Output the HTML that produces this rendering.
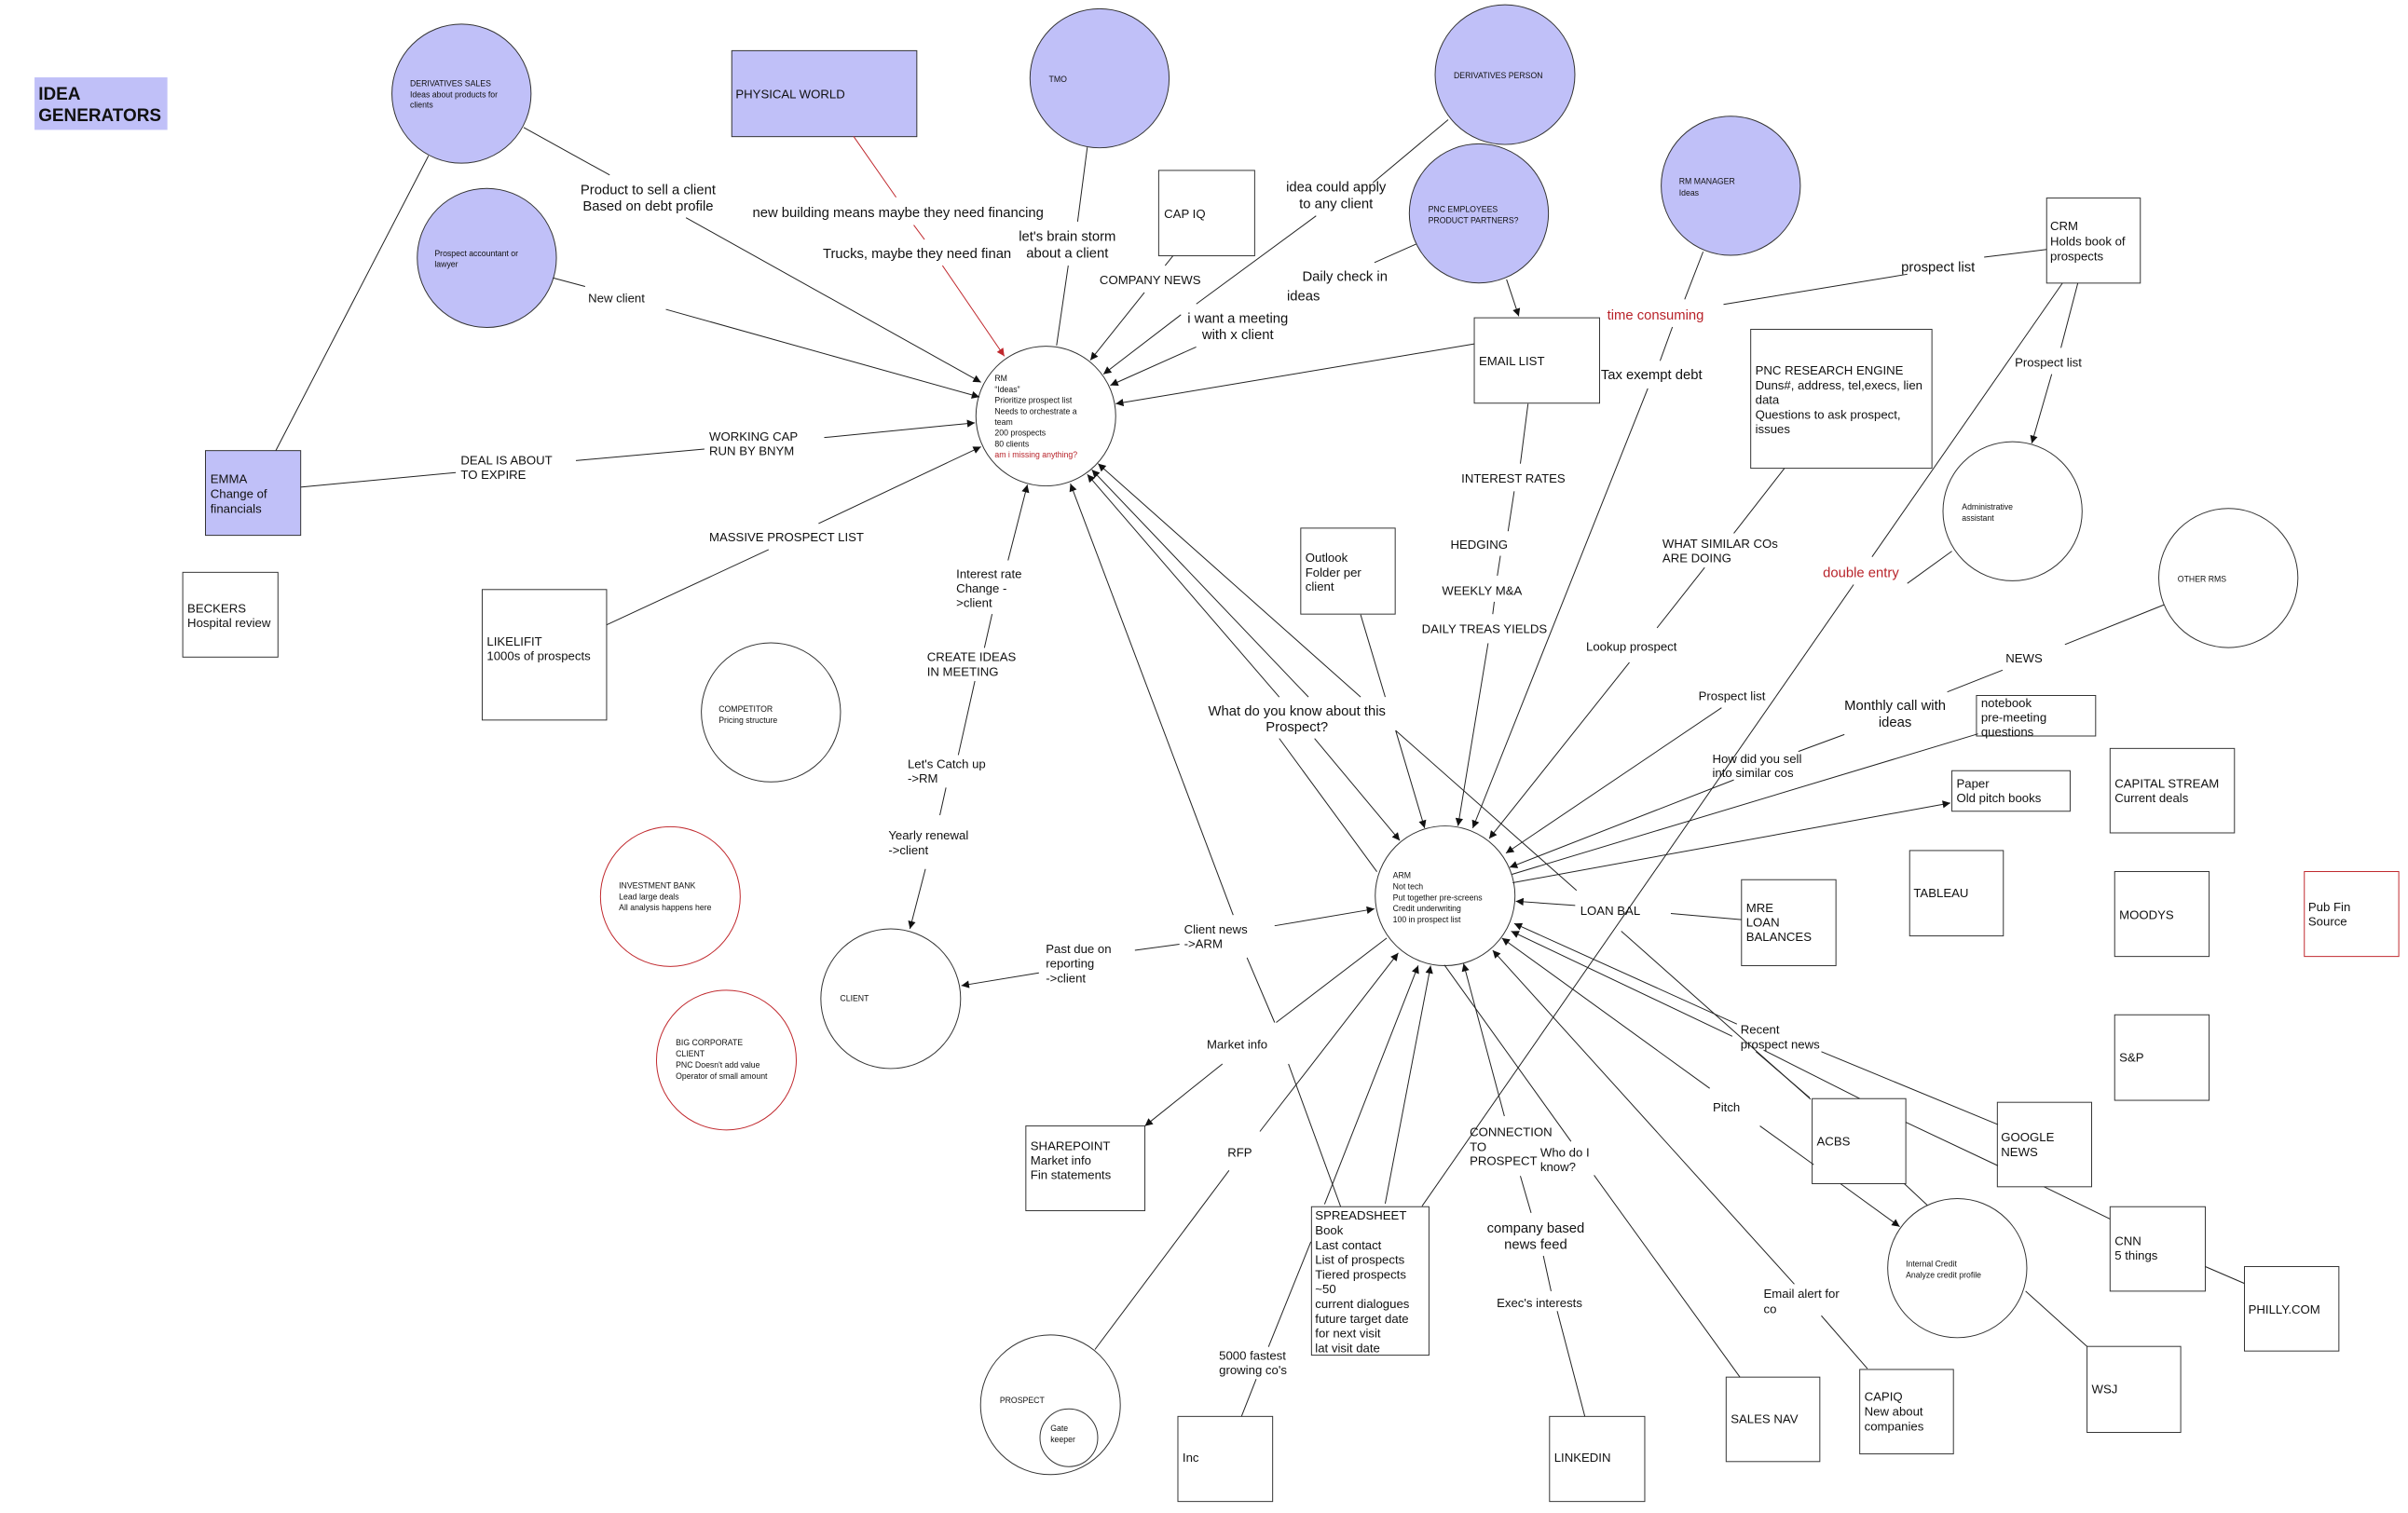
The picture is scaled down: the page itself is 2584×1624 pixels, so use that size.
<!DOCTYPE html>
<html><head><meta charset="utf-8"><style>
html,body{margin:0;padding:0;background:#fff}
svg{display:block}
text{font-family:"Liberation Sans",Arial,sans-serif;fill:#111}
.l{stroke:#222;stroke-width:.6;fill:none}
.r{stroke:#c0282d;stroke-width:.6;fill:none}
.c{fill:#c0c0f8;stroke:#333;stroke-width:.6}
.w{fill:#fff;stroke:#333;stroke-width:.6}
.rc{fill:#fff;stroke:#c0282d;stroke-width:.6}
.t9{font-size:9px}
.t8{font-size:8px}
.t5{font-size:5.3px}
.red{fill:#b8232a}
</style></head><body>
<svg width="2584" height="1624" viewBox="0 0 1568 985.5" preserveAspectRatio="none" xmlns="http://www.w3.org/2000/svg">
<defs>
<marker id="a" viewBox="0 0 10 10" refX="10" refY="5" markerWidth="6" markerHeight="5" markerUnits="userSpaceOnUse" orient="auto"><path d="M0,0L10,5L0,10z" fill="#111"/></marker>
<marker id="ar" viewBox="0 0 10 10" refX="10" refY="5" markerWidth="6" markerHeight="5" markerUnits="userSpaceOnUse" orient="auto"><path d="M0,0L10,5L0,10z" fill="#c0282d"/></marker>
</defs>
<rect width="1568" height="985.5" fill="#fff"/>

<!-- IDEA GENERATORS -->
<rect x="22.5" y="50.4" width="86.5" height="34.2" fill="#c0c0f8"/>
<text x="25" y="65" style="font-size:11.5px;font-weight:bold">IDEA</text>
<text x="25" y="79" style="font-size:11.5px;font-weight:bold">GENERATORS</text>

<!-- purple circles -->
<circle class="c" cx="300.5" cy="61" r="45.3"/>
<text class="t5" x="267" y="56.2">DERIVATIVES SALES</text>
<text class="t5" x="267" y="63.3">Ideas about products for</text>
<text class="t5" x="267" y="70.2">clients</text>
<circle class="c" cx="317" cy="168" r="45.3"/>
<text class="t5" x="283" y="167">Prospect accountant or</text>
<text class="t5" x="283" y="174">lawyer</text>
<circle class="c" cx="716" cy="51" r="45.3"/>
<text class="t5" x="683" y="53.5">TMO</text>
<circle class="c" cx="980" cy="48.6" r="45.5"/>
<text class="t5" x="946.6" y="51">DERIVATIVES PERSON</text>
<circle class="c" cx="963" cy="139" r="45.3"/>
<text class="t5" x="930" y="138">PNC EMPLOYEES</text>
<text class="t5" x="930" y="145.3">PRODUCT PARTNERS?</text>
<circle class="c" cx="1127" cy="121" r="45.3"/>
<text class="t5" x="1093.3" y="120">RM MANAGER</text>
<text class="t5" x="1093.3" y="127.3">Ideas</text>

<!-- purple rects -->
<rect class="c" x="476.5" y="33" width="120.5" height="56"/>
<text class="t8" x="479" y="64">PHYSICAL WORLD</text>
<rect class="c" x="133.8" y="293.5" width="62" height="55.2"/>
<text class="t8" x="137" y="314.5">EMMA</text>
<text class="t8" x="137" y="324.3">Change of</text>
<text class="t8" x="137" y="334">financials</text>

<!-- white rects -->
<rect class="w" x="754.5" y="111" width="62.5" height="55.6"/>
<text class="t8" x="758" y="142">CAP IQ</text>
<rect class="w" x="960" y="207" width="81.6" height="55.6"/>
<text class="t8" x="963" y="238">EMAIL LIST</text>
<rect class="w" x="1140" y="214.5" width="118" height="90.5"/>
<text class="t8" x="1143" y="244">PNC RESEARCH ENGINE</text>
<text class="t8" x="1143" y="253.7">Duns#, address, tel,execs, lien</text>
<text class="t8" x="1143" y="263.2">data</text>
<text class="t8" x="1143" y="272.7">Questions to ask prospect,</text>
<text class="t8" x="1143" y="282.2">issues</text>
<rect class="w" x="1332.7" y="129" width="61" height="55.4"/>
<text class="t8" x="1335" y="150">CRM</text>
<text class="t8" x="1335" y="160">Holds book of</text>
<text class="t8" x="1335" y="169.6">prospects</text>
<rect class="w" x="119" y="372.8" width="62" height="55.2"/>
<text class="t8" x="122" y="399">BECKERS</text>
<text class="t8" x="122" y="408.5">Hospital review</text>
<rect class="w" x="314" y="384" width="81" height="85"/>
<text class="t8" x="317" y="420.6">LIKELIFIT</text>
<text class="t8" x="317" y="430">1000s of prospects</text>
<rect class="w" x="847" y="344" width="61.5" height="56"/>
<text class="t8" x="850" y="366">Outlook</text>
<text class="t8" x="850" y="375.5">Folder per</text>
<text class="t8" x="850" y="384.7">client</text>
<rect class="w" x="1287" y="453" width="77.6" height="26.4"/>
<text class="t8" x="1290" y="460.6">notebook</text>
<text class="t8" x="1290" y="470">pre-meeting</text>
<text class="t8" x="1290" y="479.4">questions</text>
<rect class="w" x="1271" y="502" width="77" height="26.4"/>
<text class="t8" x="1274" y="513">Paper</text>
<text class="t8" x="1274" y="522.5">Old pitch books</text>
<rect class="w" x="1374" y="487.5" width="81" height="55"/>
<text class="t8" x="1377" y="513">CAPITAL STREAM</text>
<text class="t8" x="1377" y="522.5">Current deals</text>
<rect class="w" x="1243.5" y="554" width="61" height="55.6"/>
<text class="t8" x="1246" y="584.5">TABLEAU</text>
<rect class="w" x="1377" y="567.7" width="61.5" height="55.3"/>
<text class="t8" x="1380" y="598.5">MOODYS</text>
<rect x="1500.5" y="567.7" width="61.5" height="55.3" fill="#fff" stroke="#c0282d" stroke-width=".6"/>
<text class="t8" x="1503" y="593.5">Pub Fin</text>
<text class="t8" x="1503" y="603">Source</text>
<rect class="w" x="1134" y="573" width="61.5" height="56"/>
<text class="t8" x="1137" y="594">MRE</text>
<text class="t8" x="1137" y="603.5">LOAN</text>
<text class="t8" x="1137" y="613">BALANCES</text>
<rect class="w" x="1377" y="661" width="61.5" height="55.7"/>
<text class="t8" x="1380" y="691.5">S&amp;P</text>
<rect class="w" x="1180" y="715.6" width="61" height="55.4"/>
<text class="t8" x="1183" y="746">ACBS</text>
<rect class="w" x="1300.6" y="718" width="61.4" height="55"/>
<text class="t8" x="1303" y="743.5">GOOGLE</text>
<text class="t8" x="1303" y="753">NEWS</text>
<rect class="w" x="1374" y="786" width="62" height="55"/>
<text class="t8" x="1377" y="811">CNN</text>
<text class="t8" x="1377" y="820.5">5 things</text>
<rect class="w" x="1461.5" y="825" width="61.5" height="55"/>
<text class="t8" x="1464" y="855.5">PHILLY.COM</text>
<rect class="w" x="1359" y="877" width="61" height="56"/>
<text class="t8" x="1362" y="907.5">WSJ</text>
<rect class="w" x="1211" y="892" width="61" height="55"/>
<text class="t8" x="1214" y="912.5">CAPIQ</text>
<text class="t8" x="1214" y="922">New about</text>
<text class="t8" x="1214" y="931.7">companies</text>
<rect class="w" x="1124" y="897" width="61" height="55"/>
<text class="t8" x="1127" y="927">SALES NAV</text>
<rect class="w" x="1009" y="922.6" width="62" height="55.4"/>
<text class="t8" x="1012" y="952">LINKEDIN</text>
<rect class="w" x="767" y="922.6" width="61.7" height="55.4"/>
<text class="t8" x="770" y="952">Inc</text>
<rect class="w" x="668" y="733.4" width="77.5" height="55.2"/>
<text class="t8" x="671" y="749">SHAREPOINT</text>
<text class="t8" x="671" y="758.5">Market info</text>
<text class="t8" x="671" y="768">Fin statements</text>
<rect class="w" x="854" y="786" width="76.5" height="96.7"/>
<text class="t8" x="856.4" y="794.5">SPREADSHEET</text>
<text class="t8" x="856.4" y="804.1">Book</text>
<text class="t8" x="856.4" y="813.7">Last contact</text>
<text class="t8" x="856.4" y="823.3">List of prospects</text>
<text class="t8" x="856.4" y="832.8">Tiered prospects</text>
<text class="t8" x="856.4" y="842.4">~50</text>
<text class="t8" x="856.4" y="852">current dialogues</text>
<text class="t8" x="856.4" y="861.6">future target date</text>
<text class="t8" x="856.4" y="871.2">for next visit</text>
<text class="t8" x="856.4" y="880.7">lat visit date</text>

<!-- white circles -->
<circle class="w" cx="681" cy="271" r="45.5"/>
<text class="t5" x="647.7" y="248.3">RM</text>
<text class="t5" x="647.7" y="255.4">“Ideas”</text>
<text class="t5" x="647.7" y="262.5">Prioritize prospect list</text>
<text class="t5" x="647.7" y="269.6">Needs to orchestrate a</text>
<text class="t5" x="647.7" y="276.7">team</text>
<text class="t5" x="647.7" y="283.8">200 prospects</text>
<text class="t5" x="647.7" y="290.9">80 clients</text>
<text class="t5 red" x="647.7" y="298">am i missing anything?</text>
<circle class="w" cx="941" cy="583.5" r="45.5"/>
<text class="t5" x="907" y="572">ARM</text>
<text class="t5" x="907" y="579.2">Not tech</text>
<text class="t5" x="907" y="586.4">Put together pre-screens</text>
<text class="t5" x="907" y="593.6">Credit underwriting</text>
<text class="t5" x="907" y="600.8">100 in prospect list</text>
<circle class="w" cx="502" cy="464" r="45.3"/>
<text class="t5" x="468" y="463.5">COMPETITOR</text>
<text class="t5" x="468" y="470.8">Pricing structure</text>
<circle class="rc" cx="436.5" cy="584" r="45.5"/>
<text class="t5" x="403" y="578.5">INVESTMENT BANK</text>
<text class="t5" x="403" y="585.8">Lead large deals</text>
<text class="t5" x="403" y="593">All analysis happens here</text>
<circle class="rc" cx="473" cy="690.5" r="45.5"/>
<text class="t5" x="440" y="681">BIG CORPORATE</text>
<text class="t5" x="440" y="688.2">CLIENT</text>
<text class="t5" x="440" y="695.4">PNC Doesn't add value</text>
<text class="t5" x="440" y="702.6">Operator of small amount</text>
<circle class="w" cx="580" cy="650.5" r="45.5"/>
<text class="t5" x="547" y="652">CLIENT</text>
<circle class="w" cx="1310.5" cy="333" r="45.3"/>
<text class="t5" x="1277.5" y="332">Administrative</text>
<text class="t5" x="1277.5" y="339.3">assistant</text>
<circle class="w" cx="1451" cy="376.5" r="45.3"/>
<text class="t5" x="1418" y="379">OTHER RMS</text>
<circle class="w" cx="1274.5" cy="826" r="45.3"/>
<text class="t5" x="1241" y="825">Internal Credit</text>
<text class="t5" x="1241" y="832.3">Analyze credit profile</text>
<circle class="w" cx="684" cy="915" r="45.5"/>
<text class="t5" x="651" y="914">PROSPECT</text>
<circle class="w" cx="696" cy="936.5" r="18.8"/>
<text class="t5" x="684" y="932">Gate</text>
<text class="t5" x="684" y="939.5">keeper</text>

<!-- connectors -->
<g class="l">
<line x1="341" y1="83" x2="397" y2="114"/>
<line x1="446.7" y1="141.8" x2="638.8" y2="249" marker-end="url(#a)"/>
<line x1="360" y1="181" x2="381" y2="186.6"/>
<line x1="433.6" y1="201.5" x2="637.8" y2="258.6" marker-end="url(#a)"/>
<line x1="708" y1="96" x2="701.7" y2="144.4"/>
<line x1="695.6" y1="173" x2="688" y2="225"/>
<line x1="763.8" y1="166.6" x2="758.7" y2="173"/>
<line x1="745.2" y1="190.5" x2="710" y2="234.6" marker-end="url(#a)"/>
<line x1="943" y1="78" x2="894" y2="119"/>
<line x1="857" y1="140.6" x2="779" y2="198"/>
<line x1="769" y1="205" x2="718.5" y2="243.7" marker-end="url(#a)"/>
<line x1="778.9" y1="226" x2="723" y2="251" marker-end="url(#a)"/>
<line x1="895" y1="171" x2="922" y2="159"/>
<line x1="981" y1="182" x2="989" y2="206" marker-end="url(#a)"/>
<line x1="960" y1="224" x2="726.5" y2="263" marker-end="url(#a)"/>
<line x1="179.6" y1="293.5" x2="279" y2="101.5"/>
<line x1="195.7" y1="317.3" x2="296.8" y2="307.8"/>
<line x1="375" y1="300" x2="458.7" y2="292.5"/>
<line x1="536.7" y1="285" x2="634.8" y2="275.4" marker-end="url(#a)"/>
<line x1="395" y1="407" x2="500.5" y2="358"/>
<line x1="533" y1="341" x2="638.8" y2="291" marker-end="url(#a)"/>
<line x1="656.4" y1="365" x2="669" y2="315.7" marker-end="url(#a)"/>
<line x1="646" y1="400" x2="641" y2="422"/>
<line x1="634.8" y1="443.6" x2="624" y2="491.8"/>
<line x1="616" y1="513" x2="612" y2="531"/>
<line x1="602.6" y1="566" x2="592.5" y2="605" marker-end="url(#a)"/>
<line x1="676.5" y1="633.7" x2="626" y2="642" marker-end="url(#a)"/>
<line x1="739" y1="619" x2="768" y2="615"/>
<line x1="830" y1="603" x2="895" y2="592" marker-end="url(#a)"/>
<!-- RM <-> ARM lines -->
<line x1="803" y1="596" x2="697" y2="315" marker-end="url(#a)"/>
<line x1="833" y1="454" x2="708" y2="309" marker-end="url(#a)"/>
<line x1="852" y1="454" x2="711" y2="306" marker-end="url(#a)"/>
<line x1="886" y1="454" x2="715" y2="302" marker-end="url(#a)"/>
<line x1="833" y1="481" x2="896.6" y2="567.8"/>
<line x1="856" y1="481" x2="911.5" y2="547.5" marker-end="url(#a)"/>
<line x1="908.8" y1="475.8" x2="927.7" y2="539.4" marker-end="url(#a)"/>
<line x1="908.8" y1="475.8" x2="1026.6" y2="580"/>
<line x1="886" y1="400.4" x2="902" y2="454"/>
<!-- email list chain -->
<line x1="995" y1="263" x2="990" y2="302"/>
<line x1="986" y1="320" x2="982" y2="346"/>
<line x1="977" y1="362" x2="975" y2="375"/>
<line x1="973" y1="392" x2="972" y2="400"/>
<line x1="969" y1="419" x2="949.4" y2="538" marker-end="url(#a)"/>
<!-- RM manager / tax exempt -->
<line x1="1109" y1="164" x2="1097" y2="195"/>
<line x1="1089" y1="213" x2="1081" y2="235"/>
<line x1="1073" y1="253" x2="959" y2="539.4" marker-end="url(#a)"/>
<line x1="1242" y1="178.6" x2="1122.3" y2="198.3"/>
<line x1="1292" y1="167.5" x2="1332.7" y2="162.5"/>
<line x1="1353" y1="184.4" x2="1342" y2="226.6"/>
<line x1="1336" y1="243.7" x2="1323" y2="288.8" marker-end="url(#a)"/>
<line x1="1343" y1="184.4" x2="1219" y2="362.7"/>
<line x1="1207" y1="380.8" x2="926" y2="785.6"/>
<line x1="1162" y1="305" x2="1129" y2="347.4"/>
<line x1="1110" y1="369.7" x2="1079" y2="409"/>
<line x1="1061" y1="431.5" x2="969.7" y2="546.2" marker-end="url(#a)"/>
<line x1="1271" y1="359" x2="1242" y2="380"/>
<line x1="1121" y1="461" x2="980.6" y2="555.7" marker-end="url(#a)"/>
<line x1="1409" y1="394" x2="1344.6" y2="419.8"/>
<line x1="1304" y1="436.5" x2="1268" y2="450.7"/>
<line x1="1201" y1="478.4" x2="1171" y2="489.5"/>
<line x1="1129" y1="508" x2="983" y2="565" marker-end="url(#a)"/>
<line x1="1288" y1="478" x2="984.5" y2="569.5"/>
<line x1="985" y1="575" x2="1270" y2="523" marker-end="url(#a)"/>
<line x1="1025.7" y1="589.8" x2="987" y2="587" marker-end="url(#a)"/>
<line x1="1088" y1="595" x2="1134" y2="599"/>
<line x1="1055.7" y1="606.5" x2="1179" y2="716"/>
<line x1="1131" y1="667" x2="986" y2="601.5" marker-end="url(#a)"/>
<line x1="1128" y1="675" x2="984" y2="606.5" marker-end="url(#a)"/>
<line x1="1143.4" y1="685" x2="1178.4" y2="715"/>
<line x1="1148.4" y1="684" x2="1211" y2="715.6"/>
<line x1="1186" y1="685" x2="1301" y2="732.5"/>
<line x1="1241" y1="731" x2="1301" y2="759.3"/>
<line x1="1113.3" y1="708.9" x2="978" y2="611" marker-end="url(#a)"/>
<line x1="1146" y1="733.4" x2="1181" y2="758.6"/>
<line x1="1198.4" y1="771" x2="1237" y2="799" marker-end="url(#a)"/>
<line x1="1240" y1="771" x2="1255" y2="785"/>
<line x1="1331" y1="773" x2="1374" y2="794"/>
<line x1="1436" y1="825" x2="1461.5" y2="836"/>
<line x1="1319" y1="841" x2="1359" y2="877"/>
<line x1="1168.4" y1="836.4" x2="972" y2="619" marker-end="url(#a)"/>
<line x1="1186" y1="857" x2="1216" y2="891.5"/>
<line x1="940.5" y1="628.5" x2="1023" y2="743.5"/>
<line x1="1038" y1="765.5" x2="1133" y2="897"/>
<line x1="979.6" y1="727" x2="953" y2="627.6" marker-end="url(#a)"/>
<line x1="990" y1="766" x2="997" y2="790"/>
<line x1="1005" y1="818" x2="1010" y2="841"/>
<line x1="1014" y1="854" x2="1032" y2="922.6"/>
<line x1="862.5" y1="784.4" x2="923.5" y2="628.9" marker-end="url(#a)"/>
<line x1="902" y1="784" x2="931.6" y2="629" marker-end="url(#a)"/>
<line x1="853.6" y1="808.8" x2="826" y2="877.3"/>
<line x1="818" y1="898.2" x2="808.4" y2="922.6"/>
<line x1="812" y1="623.8" x2="830" y2="666"/>
<line x1="831" y1="666" x2="903" y2="611"/>
<line x1="796" y1="693" x2="745.5" y2="733.4" marker-end="url(#a)"/>
<line x1="839" y1="693" x2="873" y2="786"/>
<line x1="820.4" y1="737" x2="910.5" y2="620.7" marker-end="url(#a)"/>
<line x1="800.3" y1="762.4" x2="713" y2="879"/>
</g>
<!-- red physical world -->
<line class="r" x1="555.8" y1="88.8" x2="583.5" y2="128.5"/>
<line class="r" x1="595" y1="146.6" x2="602" y2="156"/>
<line class="r" x1="613.7" y1="173" x2="654" y2="232" marker-end="url(#ar)"/>

<!-- labels -->
<text class="t9" x="422" y="126.5" text-anchor="middle">Product to sell a client</text>
<text class="t9" x="422" y="137" text-anchor="middle">Based on debt profile</text>
<text class="t8" x="383" y="197">New client</text>
<text class="t9" x="490" y="141.5">new building means maybe they need financing</text>
<text class="t9" x="535.8" y="168">Trucks, maybe they need finan</text>
<text class="t9" x="695" y="157" text-anchor="middle">let's brain storm</text>
<text class="t9" x="695" y="167.7" text-anchor="middle">about a client</text>
<text class="t8" x="716" y="185">COMPANY NEWS</text>
<text class="t9" x="870" y="124.7" text-anchor="middle">idea could apply</text>
<text class="t9" x="870" y="135.5" text-anchor="middle">to any client</text>
<text class="t9" x="806" y="210.3" text-anchor="middle">i want a meeting</text>
<text class="t9" x="806" y="220.8" text-anchor="middle">with x client</text>
<text class="t9" x="848" y="183">Daily check in</text>
<text class="t9" x="838" y="195.8">ideas</text>
<text class="t9 red" x="1046.5" y="208">time consuming</text>
<text class="t9" x="1042.4" y="247">Tax exempt debt</text>
<text class="t9" x="1238" y="177">prospect list</text>
<text class="t8" x="1312" y="238.8">Prospect list</text>
<text class="t8" x="951.6" y="314.3">INTEREST RATES</text>
<text class="t8" x="944.5" y="357.4">HEDGING</text>
<text class="t8" x="939" y="387.5">WEEKLY M&amp;A</text>
<text class="t8" x="925.8" y="412.4">DAILY TREAS YIELDS</text>
<text class="t8" x="1082.5" y="356.8">WHAT SIMILAR COs</text>
<text class="t8" x="1082.5" y="366.3">ARE DOING</text>
<text class="t8" x="1032.8" y="424">Lookup prospect</text>
<text class="t9 red" x="1187" y="376">double entry</text>
<text class="t8" x="1106" y="456">Prospect list</text>
<text class="t8" x="1306" y="431.4">NEWS</text>
<text class="t9" x="1234" y="462.5" text-anchor="middle">Monthly call with</text>
<text class="t9" x="1234" y="473.2" text-anchor="middle">ideas</text>
<text class="t8" x="1115" y="497">How did you sell</text>
<text class="t8" x="1115" y="506.2">into similar cos</text>
<text class="t8" x="300" y="302.5">DEAL IS ABOUT</text>
<text class="t8" x="300" y="312">TO EXPIRE</text>
<text class="t8" x="461.8" y="287">WORKING CAP</text>
<text class="t8" x="461.8" y="296.5">RUN BY BNYM</text>
<text class="t8" x="461.8" y="352.7">MASSIVE PROSPECT LIST</text>
<text class="t8" x="622.7" y="376.5">Interest rate</text>
<text class="t8" x="622.7" y="386">Change -</text>
<text class="t8" x="622.7" y="395.5">&gt;client</text>
<text class="t8" x="603.6" y="430.7">CREATE IDEAS</text>
<text class="t8" x="603.6" y="440.2">IN MEETING</text>
<text class="t8" x="591" y="500.2">Let's Catch up</text>
<text class="t8" x="591" y="509.7">-&gt;RM</text>
<text class="t8" x="578.5" y="546.9">Yearly renewal</text>
<text class="t8" x="578.5" y="556.4">-&gt;client</text>
<text class="t9" x="844.5" y="466" text-anchor="middle">What do you know about this</text>
<text class="t9" x="844.5" y="476.5" text-anchor="middle">Prospect?</text>
<text class="t8" x="771" y="608">Client news</text>
<text class="t8" x="771" y="617.5">-&gt;ARM</text>
<text class="t8" x="681" y="620.8">Past due on</text>
<text class="t8" x="681" y="630.3">reporting</text>
<text class="t8" x="681" y="639.8">-&gt;client</text>
<text class="t8" x="1029" y="595.8">LOAN BAL</text>
<text class="t8" x="785.8" y="682.9">Market info</text>
<text class="t8" x="799.3" y="753.4">RFP</text>
<text class="t8" x="1133.4" y="673.4">Recent</text>
<text class="t8" x="1133.4" y="682.9">prospect news</text>
<text class="t8" x="1115.3" y="724">Pitch</text>
<text class="t8" x="957" y="740">CONNECTION</text>
<text class="t8" x="957" y="749.7">TO</text>
<text class="t8" x="957" y="759">PROSPECT</text>
<text class="t8" x="1003" y="753.4">Who do I</text>
<text class="t8" x="1003" y="762.9">know?</text>
<text class="t9" x="1000" y="802.8" text-anchor="middle">company based</text>
<text class="t9" x="1000" y="813.5" text-anchor="middle">news feed</text>
<text class="t8" x="974.6" y="851.4">Exec's interests</text>
<text class="t8" x="1148.4" y="845.4">Email alert for</text>
<text class="t8" x="1148.4" y="855.2">co</text>
<text class="t8" x="793.8" y="885.7">5000 fastest</text>
<text class="t8" x="793.8" y="895.2">growing co's</text>
</svg>
</body></html>
